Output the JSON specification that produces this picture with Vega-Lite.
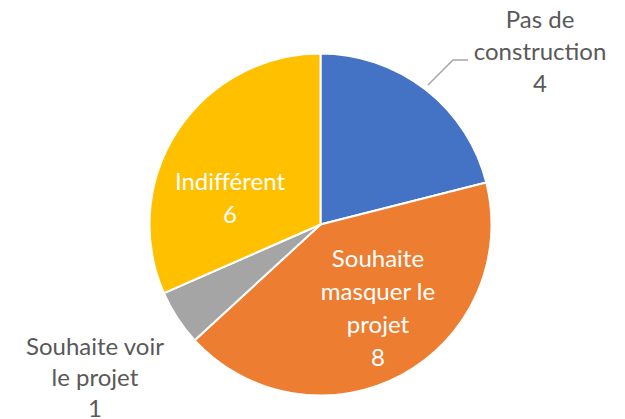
{
  "$schema": "https://vega.github.io/schema/vega-lite/v6.json",
  "width": 609,
  "height": 389,
  "padding": {"left": 16, "top": 30, "right": 0, "bottom": 0},
  "autosize": {"type": "none"},
  "background": "white",
  "config": {"view": {"stroke": null}},
  "datasets": {
    "slices": [
      {"category": "Pas de construction", "value": 4, "rank": 1, "label": "Pas de\nconstruction\n4"},
      {"category": "Souhaite masquer le projet", "value": 8, "rank": 2, "label": "Souhaite\nmasquer le\nprojet\n8"},
      {"category": "Souhaite voir le projet", "value": 1, "rank": 3, "label": "Souhaite voir\nle projet\n1"},
      {"category": "Indifférent", "value": 6, "rank": 4, "label": "Indifférent\n6"}
    ],
    "leader": [
      {"x": 107.5, "y": 139.5, "step": 1},
      {"x": 132.5, "y": 164.5, "step": 2},
      {"x": 147.5, "y": 164.5, "step": 3}
    ]
  },
  "layer": [
    {
      "data": {"name": "slices"},
      "encoding": {
        "theta": {"field": "value", "type": "quantitative", "stack": true},
        "order": {"field": "rank", "sort": "ascending"}
      },
      "layer": [
        {
          "mark": {"type": "arc", "outerRadius": 171, "stroke": "white", "strokeWidth": 2},
          "encoding": {
            "color": {
              "field": "category",
              "type": "nominal",
              "scale": {
                "domain": ["Pas de construction", "Souhaite masquer le projet", "Souhaite voir le projet", "Indifférent"],
                "range": ["#4472C4", "#ED7D31", "#A5A5A5", "#FFC000"]
              },
              "legend": null
            }
          }
        },
        {
          "mark": {"type": "text", "radius": 270, "dx": 53.7, "dy": 9.5, "font": "Lato", "fontSize": 24, "lineBreak": "\n", "lineHeight": 32, "color": "#595959", "align": "center", "baseline": "middle"},
          "encoding": {
            "text": {"condition": {"test": "datum.category === 'Pas de construction'", "field": "label"}, "value": ""}
          }
        },
        {
          "mark": {"type": "text", "radius": 101.8, "dx": 9, "dy": -54.5, "font": "Lato", "fontSize": 24, "lineBreak": "\n", "lineHeight": 33, "color": "white", "align": "center", "baseline": "middle"},
          "encoding": {
            "text": {"condition": {"test": "datum.category === 'Souhaite masquer le projet'", "field": "label"}, "value": ""}
          }
        },
        {
          "mark": {"type": "text", "radius": 273.4, "dx": 3.3, "dy": -26.3, "font": "Lato", "fontSize": 24, "lineBreak": "\n", "lineHeight": 31, "color": "#595959", "align": "center", "baseline": "middle"},
          "encoding": {
            "text": {"condition": {"test": "datum.category === 'Souhaite voir le projet'", "field": "label"}, "value": ""}
          }
        },
        {
          "mark": {"type": "text", "radius": 89.4, "dx": -15.7, "dy": 7.5, "font": "Lato", "fontSize": 24, "lineBreak": "\n", "lineHeight": 33, "color": "white", "align": "center", "baseline": "middle"},
          "encoding": {
            "text": {"condition": {"test": "datum.category === 'Indifférent'", "field": "label"}, "value": ""}
          }
        }
      ]
    },
    {
      "data": {"name": "leader"},
      "mark": {"type": "line", "color": "#A6A6A6", "strokeWidth": 1.5},
      "encoding": {
        "x": {"field": "x", "type": "quantitative", "scale": {"domain": [-304.5, 304.5], "nice": false, "zero": false}, "axis": null},
        "y": {"field": "y", "type": "quantitative", "scale": {"domain": [-194.5, 194.5], "nice": false, "zero": false}, "axis": null},
        "order": {"field": "step"}
      }
    }
  ]
}
